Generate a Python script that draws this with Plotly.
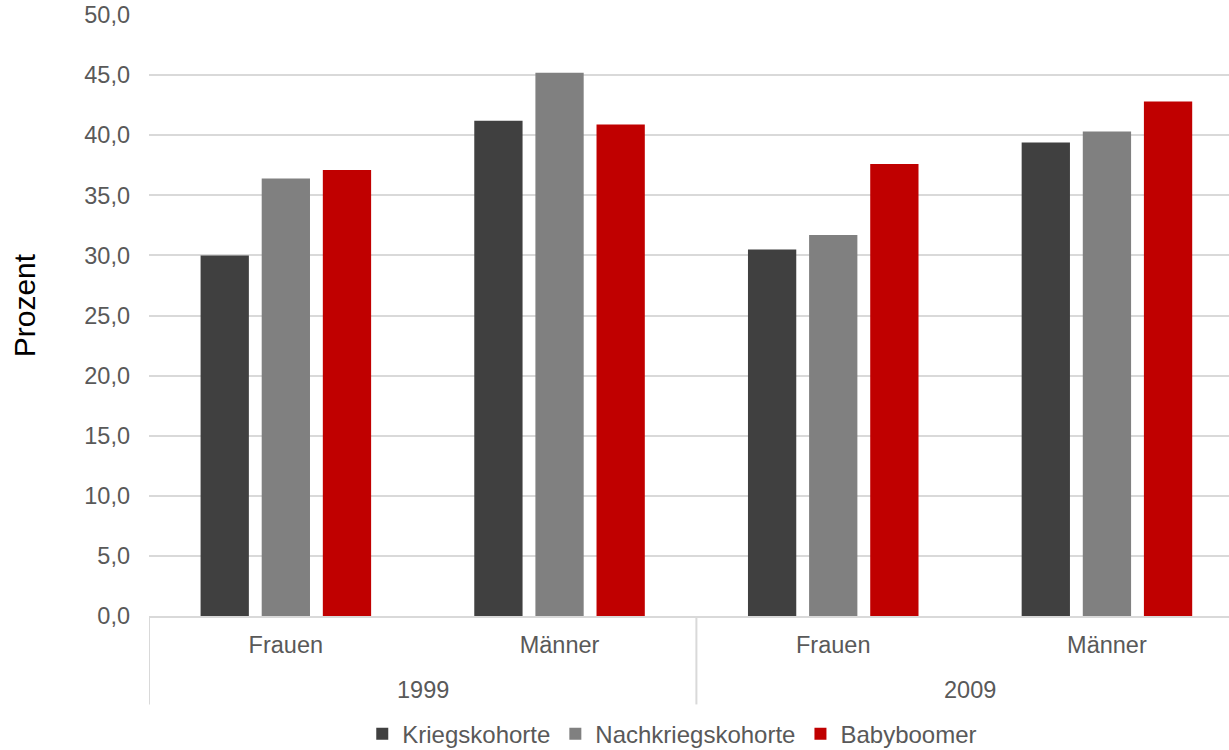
import plotly.graph_objects as go

# Survey years and gender groups
years = ["1999", "1999", "2009", "2009"]
genders = ["Frauen", "Männer", "Frauen", "Männer"]

# Shares in percent per cohort
kriegskohorte = [30.0, 41.2, 30.5, 39.4]
nachkriegskohorte = [36.4, 45.2, 31.7, 40.3]
babyboomer = [37.1, 40.9, 37.6, 42.8]

series_names = ["Kriegskohorte", "Nachkriegskohorte", "Babyboomer"]
series_values = [kriegskohorte, nachkriegskohorte, babyboomer]
series_colors = ["#404040", "#808080", "#C00000"]

y_ticks = [0, 5, 10, 15, 20, 25, 30, 35, 40, 45, 50]

FONT = "Liberation Sans, Arial, sans-serif"
TEXT_COLOR = "#595959"
GRID_COLOR = "#D9D9D9"
FS = 23.5

# unique category keys, one per (year, gender) pair
keys = [f"{g} {y}" for y, g in zip(years, genders)]

fig = go.Figure()
for name, vals, color in zip(series_names, series_values, series_colors):
    fig.add_trace(go.Bar(
        name=name,
        x=keys,
        y=vals,
        marker=dict(color=color, line=dict(width=0)),
    ))

# outer level: year labels centred under their groups, with dividers
year_groups = []
for i, y in enumerate(years):
    if year_groups and year_groups[-1][0] == y:
        year_groups[-1][2] = i
    else:
        year_groups.append([y, i, i])

plot_h = 750 - 15 - 133.5
for label, first, last in year_groups:
    fig.add_annotation(
        x=(first + last) / 2, xref="x",
        y=0, yref="paper", yshift=-73.5, yanchor="middle",
        text=label, showarrow=False,
        font=dict(size=FS, color=TEXT_COLOR, family=FONT),
    )
    fig.add_shape(
        type="line", xref="x", yref="paper",
        x0=first - 0.5, x1=first - 0.5, y0=0, y1=-88.5 / plot_h,
        line=dict(color=GRID_COLOR, width=2),
    )

# y-axis title
fig.add_annotation(
    text="Prozent", textangle=-90, showarrow=False,
    xref="paper", x=0, xshift=-125, xanchor="center",
    yref="paper", y=0.517, yanchor="middle",
    font=dict(size=30, color="#000000", family=FONT),
)

fig.update_layout(
    width=1229,
    height=750,
    barmode="group",
    bargap=0.33,
    bargroupgap=0.21,
    separators=",.",
    plot_bgcolor="white",
    paper_bgcolor="white",
    margin=dict(l=149, r=0, t=15, b=133.5, autoexpand=False),
    font=dict(family=FONT, size=FS, color=TEXT_COLOR),
    showlegend=True,
    legend=dict(
        orientation="h",
        xref="container", x=0.547, xanchor="center",
        yref="container", y=0.021, yanchor="middle",
        font=dict(size=24, color=TEXT_COLOR),
        itemwidth=30,
        traceorder="normal",
    ),
    xaxis=dict(
        type="category",
        categoryorder="array",
        categoryarray=keys,
        tickvals=keys,
        ticktext=genders,
        range=[-0.5, 3.446],
        automargin=False,
        showgrid=False,
        showline=True,
        linecolor=GRID_COLOR,
        linewidth=2,
        ticks="",
        ticklabelstandoff=7,
        tickfont=dict(size=FS, color=TEXT_COLOR),
    ),
    yaxis=dict(
        range=[0, 50],
        tickvals=y_ticks,
        tickformat=".1f",
        automargin=False,
        showgrid=True,
        gridcolor=GRID_COLOR,
        gridwidth=2,
        zeroline=False,
        showline=False,
        ticks="",
        ticklabelstandoff=18,
        tickfont=dict(size=FS, color=TEXT_COLOR),
    ),
)

fig.write_html("out.html")
